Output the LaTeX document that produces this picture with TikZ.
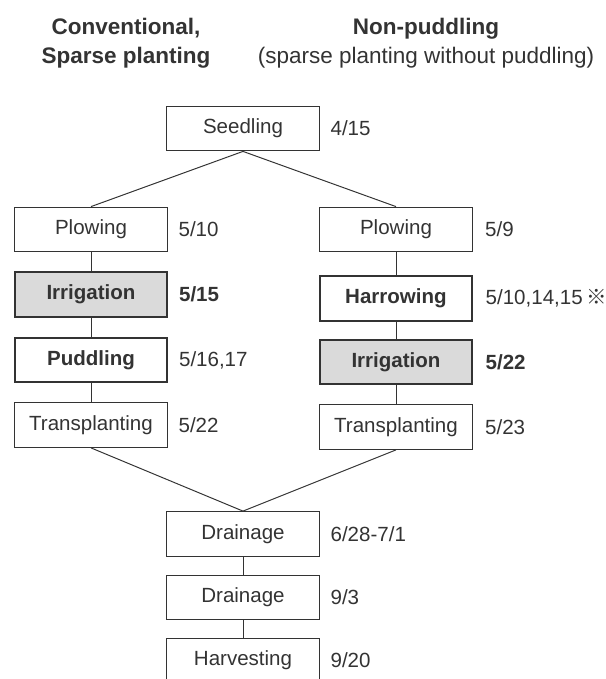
\documentclass[tikz,border=0pt]{standalone}
\usepackage{fontspec}
\setmainfont{Liberation Sans}
\newfontfamily\cjkfont{Noto Sans CJK JP}
\usetikzlibrary{positioning}
\definecolor{inkgray}{HTML}{333333}
\definecolor{boxgray}{HTML}{DADADA}

\begin{document}
\begin{tikzpicture}[x=0.025cm, y=-0.025cm,
    opnode/.style={rectangle, draw=inkgray, line width=0.7pt, text=inkgray, minimum width=3.82cm, minimum height=1.12cm, font=\fontsize{14.6}{17}\selectfont},
    keynode/.style={opnode, line width=1.4pt, font=\fontsize{14.6}{17}\selectfont\bfseries},
    waternode/.style={keynode, fill=boxgray},
    datenode/.style={inner sep=0pt, text=inkgray, font=\fontsize{14.6}{17}\selectfont},
    headnode/.style={align=center, text=inkgray, font=\fontsize{16}{20.6}\selectfont},]
    \clip (0,0) rectangle (606,679);
    % headings
    \node[headnode] (convhead) at (126,43.5) {\textbf{Conventional,}\\\textbf{Sparse planting}};
    \node[headnode] (nophead)  at (426,43.5) {\textbf{Non-puddling}\\(sparse planting without puddling)};
    % nodes
    \node[opnode]    (seed)   at (243,128.5) {Seedling};
    \node[opnode]    (lplow)  at (91,229.5)  {Plowing};
    \node[waternode] (lirr)   at (91,294.5)  {Irrigation};
    \node[keynode]   (lpud)   at (91,360)    {Puddling};
    \node[opnode]    (ltrans) at (91,425)    {Transplanting};
    \node[opnode]    (rplow)  at (396,229.5) {Plowing};
    \node[keynode]   (rharr)  at (396,298.5) {Harrowing};
    \node[waternode] (rirr)   at (396,362)   {Irrigation};
    \node[opnode]    (rtrans) at (396,427)   {Transplanting};
    \node[opnode]    (drain)  at (243,534)   {Drainage};
    \node[opnode]    (drainb) at (243,597.5) {Drainage};
    \node[opnode]    (harv)   at (243,660.5) {Harvesting};
    % dates
    \node[datenode, anchor=west] (dseed)   [right=0.26cm of seed]   {4/15};
    \node[datenode, anchor=west] (dlplow)  [right=0.26cm of lplow]  {5/10};
    \node[datenode, anchor=west] (dlirr)   [right=0.26cm of lirr]   {\textbf{5/15}};
    \node[datenode, anchor=west] (dlpud)   [right=0.26cm of lpud]   {5/16,17};
    \node[datenode, anchor=west] (dltrans) [right=0.26cm of ltrans] {5/22};
    \node[datenode, anchor=west] (drplow)  [right=0.3cm of rplow]   {5/9};
    \node[datenode, anchor=west] (drharr)  [right=0.3cm of rharr]   {5/10,14,15\,{\cjkfont ※}};
    \node[datenode, anchor=west] (drirr)   [right=0.3cm of rirr]    {\textbf{5/22}};
    \node[datenode, anchor=west] (drtrans) [right=0.3cm of rtrans]  {5/23};
    \node[datenode, anchor=west] (ddrain)  [right=0.26cm of drain]  {6/28-7/1};
    \node[datenode, anchor=west] (ddrainb) [right=0.26cm of drainb] {9/3};
    \node[datenode, anchor=west] (dharv)   [right=0.26cm of harv]   {9/20};
    % lines
    \draw[inkgray, line width=0.7pt] (seed.south) -- (lplow.north);
    \draw[inkgray, line width=0.7pt] (seed.south) -- (rplow.north);
    \draw[inkgray, line width=0.7pt] (lplow) -- (lirr) -- (lpud) -- (ltrans);
    \draw[inkgray, line width=0.7pt] (rplow) -- (rharr) -- (rirr) -- (rtrans);
    \draw[inkgray, line width=0.7pt] (ltrans.south) -- (drain.north);
    \draw[inkgray, line width=0.7pt] (rtrans.south) -- (drain.north);
    \draw[inkgray, line width=0.7pt] (drain) -- (drainb) -- (harv);
\end{tikzpicture}
\end{document}
